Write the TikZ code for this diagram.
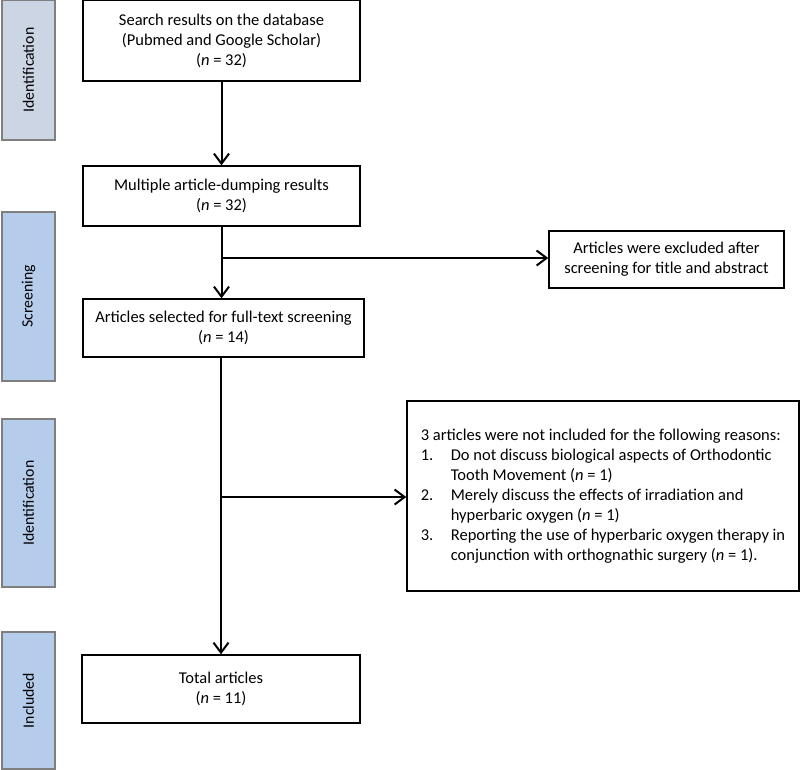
\documentclass[tikz,border=0pt]{standalone}
\usepackage{fontspec}
\setmainfont{Carlito}
\usetikzlibrary{arrows.meta}
\definecolor{cinza}{HTML}{CCD5E3}
\definecolor{azul}{HTML}{B5CDEA}
\definecolor{borda}{HTML}{7F7F7F}
\tikzset{
	caixa/.style={draw, line width=1.5pt, fill=white, align=center, font=\fontsize{16.5}{20}\selectfont, inner sep=0pt},
	fase/.style={draw=borda, line width=1.2pt, minimum width=53pt, inner sep=0pt, font=\fontsize{15.8}{18}\selectfont},
	seta/.style={line width=2pt, -{Straight Barb[length=10pt,width=15pt,line width=2pt]}}
}
\begin{document}
\begin{tikzpicture}[x=1pt, y=-1pt]
	\useasboundingbox (0,0) rectangle (800,769);

% fases
	\node[fase, fill=cinza, minimum height=140pt] (fid) at (28.5,70) {\rotatebox{90}{Identification}};
	\node[fase, fill=azul, minimum height=169pt] (fscr) at (28.5,296.5) {\rotatebox{90}{Screening}};
	\node[fase, fill=azul, minimum height=168pt] (fid2) at (28.5,503) {\rotatebox{90}{Identification}};
	\node[fase, fill=azul, minimum height=137pt] (finc) at (28.5,700.5) {\rotatebox{90}{Included}};

% caixas principais
	\node[caixa, minimum width=277pt, minimum height=81pt] (busca) at (221.5,40.5)
		{Search results on the database\\(Pubmed and Google Scholar)\\(\textit{n} = 32)};
	\node[caixa, minimum width=277pt, minimum height=60pt] (dump) at (221.5,196)
		{Multiple article-dumping results\\(\textit{n} = 32)};
	\node[caixa, minimum width=281pt, minimum height=58pt] (sel) at (223.5,328)
		{Articles selected for full-text screening\\(\textit{n} = 14)};
	\node[caixa, minimum width=278pt, minimum height=68pt] (total) at (221,689)
		{Total articles\\(\textit{n} = 11)};

% caixas de exclusao
	\node[caixa, minimum width=235pt, minimum height=57pt] (excl) at (666.5,259.5)
		{Articles were excluded after\\screening for title and abstract};
	\node[caixa, align=left, minimum width=392pt, minimum height=190pt] (motivos) at (603,496)
		{3 articles were not included for the following reasons:\\
		\makebox[30pt][l]{1.}Do not discuss biological aspects of Orthodontic\\
		\hspace*{30pt}Tooth Movement (\textit{n} = 1)\\
		\makebox[30pt][l]{2.}Merely discuss the effects of irradiation and\\
		\hspace*{30pt}hyperbaric oxygen (\textit{n} = 1)\\
		\makebox[30pt][l]{3.}Reporting the use of hyperbaric oxygen therapy in\\
		\hspace*{30pt}conjunction with orthognathic surgery (\textit{n} = 1).};

% ligacoes
	\coordinate (r1) at (221,258);
	\coordinate (r2) at (221,497);
	\draw[seta] (busca) -- (dump);
	\draw[seta] (dump.south) -- (dump.south |- sel.north);
	\draw[seta] (r1) -- (r1 -| excl.west);
	\draw[seta] (sel.south -| r1) -- (r1 |- total.north);
	\draw[seta] (r2) -- (r2 -| motivos.west);
\end{tikzpicture}
\end{document}
